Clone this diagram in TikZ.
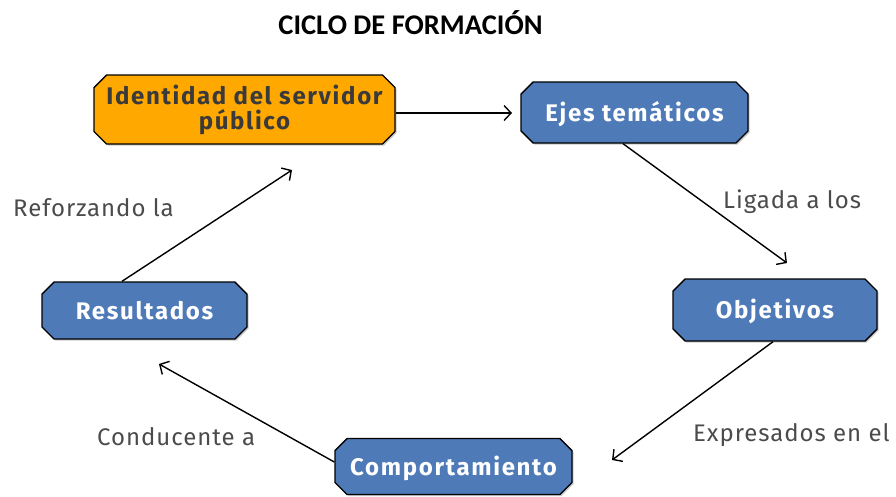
\documentclass[tikz,border=0pt]{standalone}
\usepackage{fontspec}
\setmainfont{Fira Sans}
\newfontfamily\titlefont{Carlito}
\newfontfamily\boxfont[LetterSpace=7]{Fira Sans}
\newfontfamily\labfont[LetterSpace=4]{Fira Sans}
\usetikzlibrary{shapes.misc,arrows.meta,shadows}
\definecolor{boxblue}{RGB}{79,122,184}
\definecolor{boxorange}{RGB}{255,168,0}
\definecolor{labgray}{RGB}{75,75,75}
\definecolor{txtdark}{RGB}{58,58,58}
\tikzset{
  box/.style={chamfered rectangle, chamfered rectangle xsep=9pt, draw=black, line width=1.4pt,
    inner sep=0pt,
    font=\boxfont\fontsize{24}{25}\selectfont\bfseries, align=center,
    drop shadow={shadow xshift=1.5pt, shadow yshift=-1.5pt, fill=black!35, opacity=0.6}},
  bluebox/.style={box, fill=boxblue, text=white, text height=17pt, text depth=0pt},
  orangebox/.style={box, fill=boxorange, text=txtdark},
  conn/.style={draw=black, line width=1.4pt, -{Straight Barb[length=7pt,width=15pt,line width=1.4pt]}},
  lab/.style={anchor=west, inner sep=0pt, text=labgray, font=\labfont\fontsize{24}{25}\selectfont}
}
\begin{document}
\begin{tikzpicture}[x=1pt,y=-1pt]
\useasboundingbox (0,0) rectangle (896,496);
\node[font=\titlefont\bfseries\fontsize{28.5}{30}\selectfont] (title) at (410.5,23) {CICLO DE FORMACIÓN};
\node[orangebox, minimum width=301pt, minimum height=69pt] (id) at (244.5,109.5) {Identidad del servidor\\público};
\node[bluebox, minimum width=227pt, minimum height=61pt] (ejes) at (634.5,112.5) {Ejes temáticos};
\node[bluebox, minimum width=204pt, minimum height=62pt] (obj) at (775,310) {Objetivos};
\node[bluebox, minimum width=237pt, minimum height=56pt] (comp) at (453.5,466.5) {Comportamiento};
\node[bluebox, minimum width=205pt, minimum height=57pt] (res) at (144.5,310.5) {Resultados};
\coordinate (e1) at (512,113);
\coordinate (e2) at (787,263);
\coordinate (e3) at (612,460);
\coordinate (e4) at (159,364);
\coordinate (e5) at (292,170);
\draw[conn] (id.east |- e1) -- (e1);
\draw[conn] (ejes.south -| 623,0) -- (e2);
\draw[conn] (obj.south -| 773,0) -- (e3);
\draw[conn] (comp.west |- 0,462) -- (e4);
\draw[conn] (res.north -| 122,0) -- (e5);
\node[lab] (l1) at (723,202) {Ligada a los};
\node[lab] (l2) at (693,435) {Expresados en el};
\node[lab] (l3) at (97,437) {Conducente a};
\node[lab] (l4) at (13,208) {Reforzando la};
\end{tikzpicture}
\end{document}
